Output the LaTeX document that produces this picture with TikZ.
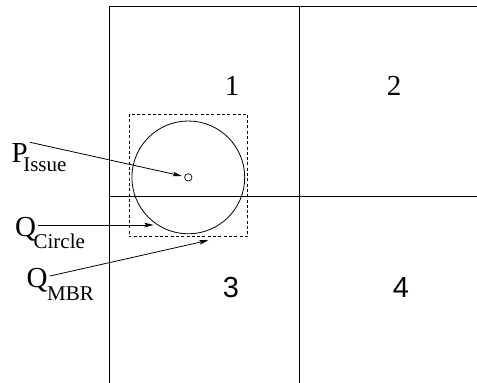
\documentclass[tikz,border=0pt]{standalone}
\usepackage{fontspec}
\setmainfont{Liberation Serif}
\newfontfamily\sansdigits{Liberation Sans}
\usetikzlibrary{arrows.meta}
\tikzset{
  gridline/.style={line width=0.9pt},
  thinline/.style={line width=0.8pt},
  mbr/.style={line width=0.8pt, dash pattern=on 3pt off 2.3pt},
  pointer/.style={line width=0.8pt, -{Stealth[length=9pt,width=4.5pt,inset=1.5pt]}},
  lbl/.style={inner sep=0pt, anchor=base west, font=\fontsize{29}{29}\selectfont},
  num/.style={inner sep=0pt, anchor=base, font=\fontsize{29}{29}\selectfont},
  numsans/.style={inner sep=0pt, anchor=base, font=\fontsize{29}{29}\selectfont\sansdigits}
}
\newcommand{\subtxt}[2]{\raisebox{-#1}{\fontsize{21}{21}\selectfont #2}}
\begin{document}
\begin{tikzpicture}[x=1pt,y=-1pt]
\useasboundingbox (0,0) rectangle (477,383);
% grid
\draw[gridline] (109,383) -- (109,6) -- (477,6);
\draw[gridline] (299.3,6) -- (299.3,383);
\draw[gridline] (109,196.7) -- (477,196.7);
% quadrant numbers
\node[num] (n1) at (232,95) {1};
\node[num] (n2) at (394,95) {2};
\node[numsans] (n3) at (231,297.7) {3};
\node[numsans] (n4) at (401,297.7) {4};
% MBR and circle
\draw[mbr] (129,114) rectangle (247.7,236.7);
\node[draw, thinline, circle, minimum size=112.8pt, inner sep=0pt] (qc) at (188.3,177.4) {};
\node[draw, line width=0.7pt, circle, minimum size=7.4pt, inner sep=0pt] (pi) at (188.3,177.4) {};
% labels
\node[lbl] (lp) at (11.5,162) {P\kern-4.5pt\subtxt{9.5pt}{Issue}};
\node[lbl] (lqc) at (15,236.5) {Q\kern-2.5pt\subtxt{11.5pt}{Circle}};
\node[lbl] (lqm) at (26.5,287) {Q\kern-0.5pt\subtxt{13pt}{MBR}};
% pointer ends
\coordinate (ps) at (30,142.3);
\coordinate (qcs) at (38,225);
\coordinate (qce) at (153.5,225);
\coordinate (qms) at (50,276);
\coordinate (qme) at (208.5,240.3);
\draw[pointer, shorten >=2.5pt] (ps) -- (pi);
\draw[pointer] (qcs) -- (qce);
\draw[pointer] (qms) -- (qme);
\end{tikzpicture}
\end{document}
